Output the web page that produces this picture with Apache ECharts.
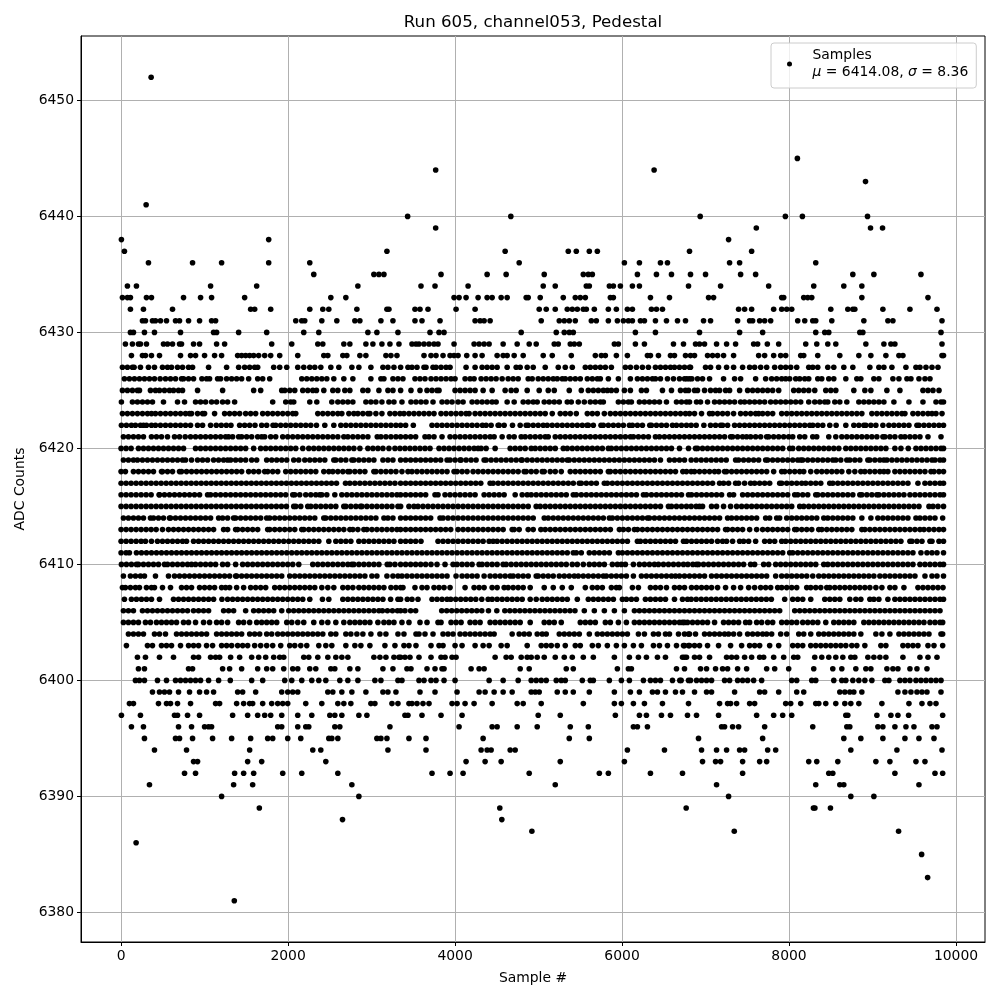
<!DOCTYPE html>
<html><head><meta charset="utf-8"><style>html,body{margin:0;background:#fff}#c{width:1000px;height:1000px}</style>
<script src="https://cdn.jsdelivr.net/npm/echarts@6/dist/echarts.min.js"></script></head><body><div id="c"></div>
<script>
// Sample positions per ADC level (dense rows are approximate).
const s6452=[360];
const s6445=[8100];
const s6444=[3768,6384];
const s6443=[8916];
const s6441=[300];
const s6440=[3432,4668,6936,7956,8160,8940];
const s6439=[3768,7608,8976,9120];
const s6438=[4,1768,7276];
const s6437=[40,3184,4600,5356,5452,5608,5704,6808,7552];
const s6436=[328,856,1204,1768,2260,4768,6028,6208,6460,6544,7288,7408,8320];
const s6435=[2308,3028,3088,3148,3832,4384,4612,5068,5536,5596,5644,6184,6412,6592,6820,7000,7420,7600,8764,9016,9580];
const s6434=[76,184,1072,1624,2836,3592,3760,4156,5056,5200,5572,5608,5848,5896,5980,6124,6208,6796,7180,7756,8296,8656,8872];
const s6433=[16,76,112,304,364,748,952,1084,1480,2512,2692,3988,4048,4132,4276,4384,4444,4552,4624,4852,4876,5020,5296,5440,5500,5560,5860,5896,6340,6568,7036,7096,7912,7936,8176,8224,8272,8872,9664];
const s6432=[112,268,616,1552,1600,1792,2260,2416,2488,2824,3184,3208,3520,3580,3676,4012,4240,5008,5092,5200,5344,5404,5464,5536,5572,5668,5836,5932,6064,6124,6352,6412,6484,7396,7468,7552,7816,7912,7972,8032,8500,8704,8764,8788,9124,9448,9772];
const s6431=[256,292,376,412,472,544,652,700,808,940,1084,1132,2092,2164,2200,2404,2584,2800,2860,3112,3256,3520,3604,3820,4240,4300,4348,4420,5032,5248,5308,5368,5440,5632,5692,5836,5944,6016,6076,6124,6220,6268,6400,6532,6664,6760,6976,7060,7384,7528,7564,7648,7708,7780,8104,8188,8284,8320,8512,8896,9184,9244,9832];
const s6430=[112,148,280,400,712,1108,1144,1408,1744,2188,2368,2956,3064,3316,3700,3808,3868,4792,5212,5308,5368,5416,6160,6400,6928,7408,7684,8320,8428,8476,8848,8884,9820];
const s6429=[52,136,208,232,304,508,556,616,700,724,868,940,1144,1240,1804,2044,2356,2416,2668,2740,2932,3016,3124,3220,3328,3484,3532,3568,3628,3688,3748,3796,3988,4228,4288,4348,4408,4576,4744,4888,4972,5188,5236,5380,5428,5488,5908,5956,6160,6268,6616,6736,6880,6928,6988,7132,7252,7360,7576,7624,7740,7876,8200,8332,8464,8560,8920,9136,9220,9268,9832];
const s6428=[124,256,292,364,460,712,832,892,1000,1120,1204,1396,1444,1492,1540,1588,1648,1720,1792,1900,2116,2428,2476,2656,2704,2860,2932,3172,3232,3304,3628,3712,3772,3856,3940,3988,4036,4140,4240,4324,4504,4576,4624,4708,4816,5056,5164,5392,5680,5752,5800,5932,6064,6304,6340,6436,6580,6628,6760,6820,6868,7024,7084,7144,7216,7336,7636,7708,7816,7900,7960,8140,8176,8344,8608,8836,8980,9160,9316,9364,9832,9850];
const s6427=[16,76,136,156,232,328,400,496,556,604,676,736,808,856,1048,1264,1408,1480,1540,1600,1636,1828,1900,1984,2116,2188,2260,2320,2392,2512,2608,2764,2848,2992,3136,3196,3268,3348,3436,3484,3544,3628,3652,3736,3772,3832,3892,3940,4132,4240,4324,4384,4444,4504,4624,4732,4780,4864,4936,5080,5236,5320,5404,5560,5620,5680,5740,5800,5872,6040,6100,6172,6244,6316,6400,6460,6520,6580,6628,6688,6748,6808,6820,7000,7060,7156,7252,7336,7444,7528,7588,7660,7732,7828,7900,7960,8020,8092,8236,8284,8344,8464,8536,8656,8764,8968,9076,9136,9232,9400,9520,9568,9640,9712,9784];
const s6426=[40,100,160,220,280,340,400,468,532,592,652,724,748,808,868,968,1024,1060,1156,1192,1264,1324,1384,1444,1528,1636,1696,1780,2164,2224,2284,2344,2404,2464,2548,2668,2776,2992,3112,3148,3256,3316,3376,3520,3580,3640,3712,3772,3832,3892,3952,4000,4120,4180,4228,4312,4372,4432,4492,4564,4636,4696,4756,4876,4924,4996,5056,5116,5176,5224,5284,5320,5380,5440,5500,5584,5644,5704,5740,5836,5956,6100,6184,6244,6304,6364,6400,6460,6544,6616,6688,6748,6808,6776,6836,6904,6964,7048,7216,7348,7420,7600,7720,7792,7852,7912,7960,8008,8080,8128,8188,8236,8344,8392,8476,8536,8680,8812,8860,9016,9076,9244,9316,9412,9460,9556,9628,9688];
const s6425=[16,76,136,196,220,352,412,460,520,580,628,688,736,916,1216,1588,1672,1924,1960,2020,2080,2176,2236,2296,2340,2428,2536,2596,2680,2740,2896,2956,3088,3196,3256,3348,3472,3580,3664,3724,3784,3808,4000,4060,4120,4180,4240,4336,4444,4600,4672,4732,4864,5008,5116,5188,5368,5512,5596,5656,5716,5776,5824,5872,5932,6028,6100,6232,6292,6484,6592,6700,6760,6796,6868,6904,6988,7060,7120,7168,7240,7288,7408,7504,7564,7624,7684,7744,7804,7876,8056,8116,8176,8236,8308,8440,8500,8560,8776,8908,8980,9172,9328,9604,9664,9724,9796];
const s6424=[4,136,196,256,316,376,508,676,760,892,952,1012,1084,1144,1216,1276,1360,1816,1972,2032,2068,2260,2344,2524,2596,2656,2716,2776,2932,2992,3052,3124,3208,3268,3364,3472,3532,3592,3652,3736,3844,3904,3964,4036,4096,4204,4264,4324,4384,4444,4492,4624,4708,4816,4876,4936,4984,5068,5128,5188,5248,5344,5392,5476,5548,5620,5680,5740,5776,5956,6016,6076,6112,6208,6268,6328,6388,6448,6532,6652,6712,6772,6808,6892,6940,7024,7108,7168,7228,7288,7348,7420,7468,7528,7588,7648,7708,7780,7840,7900,7960,8020,8080,8140,8236,8308,8368,8428,8464,8548,8608,8692,8836,8896,8956,9016,9076,9136,9256,9436,9604,9760,9820,9850];
const s6423=[16,76,136,196,256,316,364,412,472,532,592,652,712,772,820,844,916,976,1000,1120,1240,1300,1360,1420,1492,1552,1612,1696,1756,1816,1876,1936,1996,2056,2092,2356,2416,2476,2536,2596,2644,2728,2788,2836,2896,2956,2980,3052,3124,3220,3280,3340,3388,3448,3508,3568,3628,3688,3748,3832,3892,3952,4012,4072,4132,4168,4240,4300,4360,4420,4480,4540,4600,4660,4720,4780,4840,4900,4960,5020,5080,5164,5260,5320,5380,5452,5584,5644,5704,5788,5860,5920,5980,6040,6100,6160,6220,6280,6340,6400,6460,6520,6580,6640,6700,6760,6808,6868,6952,7048,7084,7144,7204,7264,7336,7420,7480,7540,7600,7636,7684,7744,7804,7912,7972,8032,8092,8152,8212,8272,8332,8392,8452,8512,8572,8632,8692,8752,8812,8872,8992,9052,9112,9172,9232,9292,9352,9388,9484,9544,9604,9664,9712,9760,9832];
const s6422=[4,64,124,172,232,268,304,364,412,472,532,592,652,712,772,832,916,976,1072,1140,1200,1260,1316,1420,1480,1540,1604,1684,1744,1820,1852,1912,1972,2032,2092,2152,2212,2272,2340,2440,2548,2632,2692,2752,2812,2872,2932,2992,3052,3112,3172,3232,3292,3348,3408,3500,3724,3784,3844,3904,3964,4024,4084,4144,4204,4264,4328,4372,4432,4516,4528,4588,4688,4780,4852,4876,4936,4996,5056,5104,5164,5224,5284,5344,5404,5464,5524,5580,5596,5656,5748,5776,5836,5896,5956,6016,6088,6124,6184,6244,6332,6352,6412,6472,6532,6604,6652,6712,6772,6828,6888,6980,7060,7120,7180,7204,7264,7348,7408,7468,7528,7588,7648,7708,7768,7828,7888,7948,8008,8068,8128,8188,8248,8284,8344,8404,8488,8564,8680,8776,8836,8896,8920,8980,9040,9124,9196,9256,9316,9376,9436,9532,9556,9616,9676,9736,9796,9850];
const s6421=[28,88,148,208,268,364,424,484,556,640,700,768,832,892,952,1012,1072,1132,1192,1252,1288,1336,1408,1444,1504,1564,1636,1684,1720,1792,1852,1936,1996,2056,2116,2176,2236,2296,2356,2416,2476,2536,2596,2668,2716,2776,2836,2896,2956,3068,3112,3172,3232,3292,3348,3408,3468,3528,3640,3688,3748,3844,3940,4000,4060,4120,4180,4240,4300,4360,4420,4468,4564,4648,4708,4792,4840,4900,4960,5020,5080,5116,5200,5260,5320,5380,5440,5500,5560,5620,5680,5740,5800,5860,5920,5980,6040,6100,6136,6196,6256,6316,6400,6448,6508,6568,6628,6688,6748,6808,6868,6928,6988,7048,7108,7168,7228,7300,7324,7384,7444,7492,7540,7600,7660,7732,7756,7816,7876,7936,7996,8044,8128,8188,8284,8332,8476,8560,8632,8692,8752,8812,8872,8932,8992,9052,9124,9148,9208,9268,9340,9388,9448,9508,9568,9664,9820];
const s6420=[0,60,120,208,268,328,388,448,508,568,628,688,748,892,952,1012,1072,1132,1192,1252,1312,1372,1432,1492,1588,1672,1732,1792,1852,1912,1972,2032,2092,2176,2248,2308,2368,2428,2488,2548,2608,2668,2728,2788,2860,2956,3016,3076,3136,3208,3280,3340,3400,3460,3520,3580,3640,3700,3808,3868,3928,3988,4048,4108,4168,4228,4276,4312,4372,4480,4660,4720,4780,4840,4912,4960,5020,5080,5140,5200,5296,5344,5404,5464,5524,5584,5644,5704,5764,5836,5872,5932,5992,6052,6112,6172,6232,6292,6352,6412,6472,6532,6592,6688,6796,6880,6904,6964,7024,7084,7144,7204,7264,7324,7384,7444,7504,7564,7624,7684,7744,7804,7864,7924,8008,8044,8116,8176,8236,8296,8356,8416,8476,8536,8596,8680,8740,8800,8860,8920,8980,9040,9100,9160,9268,9340,9428,9520,9580,9640,9700,9760,9820,9850];
const s6419=[28,88,148,196,256,316,376,436,496,556,616,676,736,772,844,916,976,1036,1108,1168,1228,1276,1312,1372,1432,1492,1564,1624,1744,1804,1864,1924,1984,2068,2128,2200,2260,2320,2380,2440,2548,2572,2632,2692,2764,2788,2848,2908,2968,3028,3136,3196,3256,3348,3408,3468,3528,3588,3648,3708,3768,3828,3904,3940,4000,4060,4072,4132,4192,4252,4348,4372,4432,4492,4552,4612,4672,4732,4792,4804,4864,4924,4984,5044,5104,5164,5224,5284,5344,5368,5428,5488,5548,5608,5668,5728,5788,5848,5908,5968,6028,6088,6148,6208,6268,6328,6388,6460,6568,6628,6688,6748,6828,6888,6948,7008,7068,7128,7188,7248,7360,7396,7456,7516,7576,7636,7720,7744,7804,7864,7924,7984,8044,8104,8140,8164,8224,8284,8344,8404,8464,8524,8560,8620,8692,8728,8788,8848,8944,8968,9028,9088,9136,9172,9232,9292,9352,9412,9472,9532,9592,9652,9712,9748,9808,9850];
const s6418=[0,52,148,208,268,328,388,484,496,556,616,700,724,784,844,904,964,1024,1084,1144,1204,1264,1324,1384,1444,1528,1588,1648,1720,1756,1816,1876,1972,2032,2092,2152,2212,2272,2332,2428,2488,2536,2596,2656,2716,2740,2800,2860,2920,3028,3052,3112,3172,3232,3292,3364,3436,3484,3544,3604,3664,3724,3784,3844,3904,3988,4024,4084,4144,4216,4276,4336,4396,4456,4516,4576,4636,4696,4756,4828,4852,4912,4972,5044,5068,5140,5200,5272,5380,5440,5500,5560,5620,5680,5740,5836,5860,5920,5980,6040,6100,6160,6220,6280,6340,6400,6460,6520,6580,6640,6728,6772,6828,6868,6928,6988,7048,7108,7156,7228,7252,7312,7372,7432,7492,7552,7612,7672,7732,7816,7912,7948,8008,8068,8128,8176,8260,8332,8392,8452,8512,8572,8632,8716,8788,8860,8908,8968,9028,9088,9136,9184,9268,9328,9388,9448,9508,9568,9628,9700,9736,9796,9850];
const s6417=[0,60,120,180,240,300,360,420,480,540,600,660,720,780,840,900,960,1020,1080,1140,1200,1260,1320,1380,1440,1500,1560,1620,1680,1740,1800,1860,1920,1980,2040,2100,2160,2220,2280,2340,2400,2460,2520,2580,2688,2740,2800,2860,2920,2980,3040,3100,3160,3220,3280,3348,3408,3468,3528,3588,3648,3708,3768,3828,3888,3948,4008,4068,4128,4188,4248,4308,4420,4456,4516,4576,4636,4696,4756,4816,4876,4936,4996,5056,5116,5176,5236,5296,5356,5416,5488,5512,5572,5632,5692,5788,5824,5884,5944,6004,6064,6124,6184,6244,6304,6364,6424,6484,6544,6604,6664,6724,6784,6844,6904,6964,7024,7084,7168,7216,7276,7360,7396,7468,7540,7588,7648,7708,7768,7888,7912,7972,8032,8092,8152,8200,8260,8320,8380,8488,8524,8584,8644,8704,8764,8824,8884,8944,9004,9064,9124,9184,9244,9304,9364,9424,9544,9628,9688,9748,9808,9850];
const s6416=[0,60,120,180,240,300,360,456,460,520,580,640,700,760,820,880,940,1036,1072,1132,1192,1252,1312,1372,1432,1492,1552,1612,1672,1732,1792,1852,1912,1972,2056,2080,2140,2212,2272,2332,2380,2404,2464,2560,2644,2704,2764,2824,2884,2944,3004,3064,3124,3184,3244,3304,3348,3408,3468,3528,3588,3648,3760,3796,3880,3940,4000,4060,4120,4180,4240,4348,4408,4468,4528,4588,4720,4804,4864,4912,4972,5032,5092,5152,5212,5272,5332,5416,5452,5512,5572,5632,5692,5752,5812,5872,5932,5992,6052,6112,6172,6256,6292,6352,6412,6472,6532,6592,6652,6712,6796,6832,6892,6952,7012,7072,7132,7192,7288,7336,7444,7504,7564,7624,7684,7744,7804,7864,7924,7984,8068,8104,8164,8224,8320,8344,8404,8464,8524,8584,8644,8704,8764,8848,8872,8932,8992,9052,9076,9136,9196,9256,9316,9376,9448,9508,9568,9628,9688,9748,9808,9850];
const s6415=[0,60,120,180,240,300,360,420,480,540,600,660,720,780,840,900,960,1020,1080,1140,1200,1260,1320,1380,1440,1500,1560,1620,1680,1740,1800,1860,1920,1980,2068,2092,2152,2236,2272,2332,2392,2452,2512,2572,2668,2692,2752,2812,2868,2884,2944,3004,3064,3124,3184,3244,3316,3348,3448,3508,3556,3616,3676,3736,3796,3856,3916,3976,4036,4096,4156,4216,4276,4336,4396,4456,4516,4576,4636,4696,4756,4816,4876,4972,5020,5080,5140,5200,5260,5320,5380,5440,5500,5560,5620,5680,5740,5800,5860,5920,5980,6040,6100,6160,6220,6280,6340,6400,6460,6556,6592,6652,6712,6772,6828,6888,6928,6964,7072,7132,7216,7300,7372,7432,7492,7552,7612,7672,7732,7792,7852,7912,7972,8032,8128,8176,8236,8296,8356,8416,8476,8536,8596,8656,8716,8776,8836,8896,8956,9016,9076,9136,9196,9256,9316,9376,9436,9496,9556,9676,9724,9784,9850];
const s6414=[28,88,148,208,268,352,388,448,508,580,592,652,712,772,832,892,952,1012,1072,1168,1216,1276,1348,1372,1432,1492,1552,1612,1672,1744,1780,1840,1900,1960,2020,2080,2140,2200,2260,2320,2428,2452,2512,2572,2632,2692,2752,2812,2872,2932,2992,3052,3148,3196,3256,3348,3408,3468,3528,3588,3648,3708,3820,3856,3916,3976,4036,4096,4156,4216,4276,4336,4396,4456,4516,4576,4636,4696,4756,4816,4876,4936,5068,5116,5176,5236,5296,5356,5416,5476,5536,5596,5656,5716,5776,5848,5884,5944,6004,6064,6124,6184,6244,6304,6328,6388,6448,6508,6568,6628,6688,6748,6808,6868,6928,6988,7048,7108,7168,7264,7312,7372,7432,7492,7552,7612,7720,7768,7852,7888,7972,8032,8092,8152,8212,8272,8332,8416,8464,8524,8584,8644,8704,8764,8872,8980,9064,9124,9184,9244,9304,9364,9424,9520,9568,9628,9688,9748,9840];
const s6413=[0,60,120,180,240,300,360,420,496,568,628,688,748,808,868,928,988,1048,1108,1228,1276,1372,1396,1456,1516,1576,1636,1756,1780,1840,1900,1960,2020,2080,2164,2188,2248,2308,2368,2428,2488,2548,2608,2668,2740,2776,2836,2908,2944,3004,3064,3124,3184,3244,3304,3348,3408,3468,3528,3588,3648,3708,3768,3828,3888,3948,4036,4096,4156,4216,4276,4336,4396,4456,4516,4576,4684,4708,4768,4876,4936,5028,5080,5140,5200,5260,5320,5380,5440,5500,5560,5620,5680,5740,5800,5860,5968,6016,6076,6148,6184,6244,6304,6364,6424,6484,6544,6604,6664,6724,6784,6844,6904,6964,7024,7084,7144,7240,7264,7324,7384,7444,7528,7612,7684,7744,7804,7864,7924,7984,8068,8092,8152,8212,8272,8356,8392,8452,8512,8572,8632,8692,8752,8872,8908,8968,9028,9088,9148,9208,9268,9328,9388,9448,9508,9568,9616,9676,9736,9796,9850];
const s6412=[0,60,120,180,240,292,364,436,496,556,616,676,736,784,868,928,988,1048,1108,1168,1228,1288,1348,1408,1468,1528,1588,1648,1708,1768,1828,1888,1948,2008,2068,2128,2188,2248,2308,2368,2488,2572,2632,2692,2752,2848,2908,2968,3028,3088,3148,3208,3268,3348,3408,3468,3528,3592,3796,3856,3916,3976,4036,4096,4156,4216,4276,4336,4408,4456,4504,4564,4624,4684,4744,4804,4864,4924,4984,5044,5104,5164,5224,5284,5344,5404,5464,5524,5584,5644,5704,5764,5824,5884,5944,6004,6064,6184,6220,6280,6340,6400,6460,6520,6580,6640,6736,6772,6832,6892,6952,7012,7072,7144,7204,7252,7324,7408,7456,7516,7600,7708,7768,7828,7912,7960,8020,8080,8140,8200,8260,8320,8380,8440,8500,8560,8620,8680,8740,8800,8860,8920,8980,9040,9100,9160,9220,9280,9340,9448,9472,9532,9592,9688,9712,9796,9850];
const s6411=[0,60,100,184,244,304,364,424,484,544,604,664,724,784,844,904,964,1024,1084,1144,1204,1264,1324,1384,1444,1504,1564,1624,1684,1744,1804,1864,1924,1984,2044,2104,2164,2224,2284,2344,2404,2464,2524,2584,2644,2704,2764,2824,2884,2944,3004,3064,3124,3184,3244,3304,3364,3424,3484,3544,3604,3664,3724,3784,3844,3904,3964,4024,4084,4144,4204,4264,4324,4384,4444,4504,4564,4624,4684,4744,4804,4864,4924,4984,5044,5104,5164,5224,5284,5344,5416,5452,5512,5608,5668,5728,5788,5848,5956,6004,6064,6124,6184,6244,6304,6364,6424,6484,6544,6604,6664,6724,6784,6844,6904,6964,7024,7084,7144,7204,7264,7324,7384,7444,7504,7564,7624,7684,7744,7804,7864,7924,8008,8044,8104,8164,8224,8284,8344,8404,8464,8524,8584,8644,8704,8764,8824,8884,8944,9004,9064,9124,9184,9244,9304,9364,9424,9484,9580,9652,9712,9772,9850];
const s6410=[4,64,124,184,208,268,328,388,448,520,556,616,676,736,796,844,892,952,1012,1072,1132,1216,1276,1372,1456,1516,1576,1636,1696,1756,1816,1876,1936,1996,2056,2128,2296,2356,2416,2476,2536,2596,2656,2716,2764,2788,2848,2908,2968,3028,3088,3188,3220,3280,3348,3408,3468,3528,3588,3648,3712,3784,3880,3976,4024,4084,4144,4204,4288,4324,4384,4444,4504,4576,4612,4672,4732,4792,4852,4912,4972,5032,5092,5152,5212,5272,5332,5404,5464,5536,5608,5668,5728,5788,5884,5944,5992,6040,6136,6208,6268,6328,6388,6436,6496,6556,6616,6676,6736,6788,6848,6892,6916,6976,7036,7096,7156,7216,7276,7336,7396,7456,7540,7588,7696,7756,7840,7900,7960,8020,8080,8140,8200,8260,8320,8416,8464,8524,8584,8644,8704,8764,8824,8884,8944,9004,9064,9124,9184,9244,9304,9364,9424,9484,9568,9628,9688,9748,9808,9850];
const s6409=[28,112,172,232,280,412,568,640,700,760,820,880,940,1000,1060,1120,1180,1240,1300,1372,1384,1444,1504,1564,1624,1684,1744,1804,1864,1924,2020,2080,2140,2200,2260,2320,2380,2440,2500,2560,2620,2680,2740,2800,2860,2920,3004,3064,3184,3256,3316,3364,3424,3484,3544,3604,3664,3724,3784,3844,3904,4012,4084,4144,4204,4264,4348,4420,4480,4540,4600,4660,4696,4756,4816,4876,4972,4996,5056,5116,5176,5248,5308,5368,5428,5476,5536,5596,5656,5716,5776,5812,5872,5932,5992,6052,6136,6232,6292,6352,6412,6472,6532,6592,6640,6688,6748,6808,6868,6928,6988,7072,7132,7192,7252,7312,7372,7432,7492,7552,7612,7672,7732,7840,7912,7972,8032,8092,8152,8212,8284,8356,8416,8476,8536,8596,8656,8716,8776,8836,8896,8956,9016,9088,9148,9208,9268,9328,9388,9448,9508,9628,9712,9772,9850];
const s6408=[16,52,112,172,220,304,364,400,496,592,724,784,844,940,1000,1060,1120,1204,1252,1300,1384,1468,1552,1612,1672,1732,1840,1900,1960,2020,2080,2140,2200,2260,2320,2404,2476,2548,2656,2716,2776,2848,2908,2968,3028,3088,3148,3232,3292,3348,3376,3520,3604,3664,3748,3808,3868,3940,4120,4228,4288,4348,4444,4504,4588,4636,4696,4756,4816,4900,5068,5176,5284,5392,5560,5644,5704,5764,5872,5932,5968,6124,6196,6340,6400,6460,6532,6628,6688,6748,6832,6892,6952,7012,7072,7144,7240,7336,7420,7516,7588,7660,7720,7780,7864,7912,7972,8032,8092,8212,8260,8320,8380,8452,8488,8548,8608,8668,8728,8788,8848,8908,8968,9040,9112,9208,9268,9376,9544,9604,9664,9724,9784,9844];
const s6407=[40,124,184,244,304,364,460,628,688,748,808,868,928,988,1048,1108,1208,1276,1336,1396,1456,1516,1576,1636,1696,1756,1816,1876,1936,1996,2056,2116,2176,2260,2412,2488,2656,2716,2776,2836,2896,2956,3016,3076,3136,3228,3316,3348,3428,3484,3556,3724,3784,3844,3904,3948,4008,4068,4128,4188,4248,4320,4396,4444,4504,4564,4624,4684,4744,4804,4900,4972,5044,5104,5164,5224,5284,5344,5464,5596,5656,5716,5776,5836,5896,6004,6052,6112,6172,6280,6340,6400,6460,6520,6628,6724,6784,6828,6888,6948,7008,7068,7128,7188,7248,7308,7368,7428,7488,7548,7608,7668,7728,7788,7948,8044,8104,8164,8260,8428,8488,8548,8608,8728,8800,8860,8968,9016,9076,9184,9268,9328,9388,9448,9508,9568,9628,9688,9748,9808,9850];
const s6406=[28,88,148,256,316,376,436,496,556,616,676,736,796,868,928,988,1048,1228,1288,1348,1492,1588,1648,1708,1768,1828,1924,2008,2068,2128,2188,2248,2308,2368,2428,2488,2548,2608,2668,2728,2788,2848,2908,2968,3028,3088,3130,3190,3250,3310,3348,3400,3468,3528,3840,3900,3960,4020,4080,4140,4200,4260,4320,4400,4500,4596,4656,4716,4776,4836,4896,4956,5016,5076,5136,5196,5256,5316,5376,5436,5548,5668,5788,5908,6028,6148,6208,6268,6328,6388,6448,6508,6568,6628,6688,6748,6808,6868,6928,6988,7048,7108,7168,7228,7288,7348,7408,7468,7528,7588,7648,7708,7768,7828,7888,8068,8128,8188,8248,8308,8368,8428,8488,8548,8608,8668,8728,8788,8848,8908,8968,9028,9088,9148,9208,9268,9328,9388,9448,9508,9568,9628,9688,9748,9808];
const s6405=[28,88,148,208,292,352,424,484,544,604,664,748,808,892,988,1060,1144,1204,1276,1408,1468,1540,1624,1684,1744,1804,1864,1984,2044,2116,2188,2308,2404,2476,2572,2668,2740,2800,2860,2920,2980,3076,3148,3208,3268,3364,3448,3580,3664,3796,3832,3952,4012,4072,4180,4240,4300,4420,4480,4540,4600,4660,4720,4780,4900,5068,5128,5188,5272,5500,5560,5620,5680,5800,5860,5956,6052,6148,6208,6268,6328,6388,6448,6508,6568,6628,6688,6748,6724,6784,6844,6904,6964,7024,7108,7216,7276,7336,7396,7480,7528,7612,7672,7744,7804,7912,7972,8032,8092,8164,8224,8284,8344,8440,8536,8596,8656,8716,8776,8896,8956,9016,9076,9136,9196,9256,9316,9376,9436,9496,9556,9616,9688,9748,9808,9840];
const s6404=[88,148,208,268,400,460,532,664,724,784,844,904,964,1024,1144,1204,1264,1324,1384,1444,1540,1600,1660,1744,1804,1876,1936,1996,2056,2116,2176,2236,2296,2356,2416,2512,2572,2692,2752,2824,2896,2992,3100,3172,3316,3388,3532,3568,3640,3736,3856,3916,3976,4060,4120,4180,4240,4300,4360,4420,4468,4684,4768,4828,4888,4984,5044,5092,5248,5308,5368,5428,5488,5608,5704,5764,5824,5884,5944,6004,6064,6196,6268,6376,6436,6520,6568,6676,6748,6796,6808,6880,6988,7048,7108,7168,7228,7276,7336,7408,7504,7564,7624,7684,7732,7792,7900,7972,8116,8176,8260,8356,8416,8476,8536,8596,8656,8716,8776,8860,9040,9112,9208,9316,9376,9436,9496,9556,9616,9676,9820,9840];
const s6403=[64,316,376,484,544,604,712,808,868,928,1024,1096,1204,1264,1324,1396,1456,1516,1600,1672,1744,1816,1912,2020,2080,2152,2224,2368,2452,2524,2692,2800,2872,2980,3160,3280,3388,3448,3532,3712,3808,3856,4000,4084,4240,4336,4408,4552,4624,4864,5032,5092,5152,5224,5320,5440,5500,5644,5716,5824,5932,6028,6136,6232,6376,6448,6544,6652,6748,6808,6736,6796,6868,6928,7024,7156,7300,7432,7528,7588,7648,7768,7876,8044,8104,8164,8260,8320,8380,8440,8500,8560,8620,8680,8752,8812,8908,9100,9160,9364,9424,9484,9544,9664,9736,9840];
const s6402=[196,292,460,628,868,928,1072,1132,1180,1312,1420,1564,1648,1732,1828,1900,1948,2188,2248,2356,2476,2572,2644,2716,3028,3100,3172,3268,3328,3348,3400,3460,3568,3712,3832,3880,3964,4012,4480,4612,4672,4792,4864,4912,4984,5068,5200,5308,5404,5536,5656,5908,6088,6196,6292,6424,6520,6724,6772,6748,6868,6928,7048,7252,7312,7372,7468,7552,7648,7696,7816,7936,8056,8104,8308,8392,8476,8560,8644,8740,8788,8944,9016,9088,9160,9364,9568,9664,9772];
const s6401=[208,280,808,856,1216,1300,1444,1636,1744,1816,1948,2056,2116,2260,2332,2512,2560,2740,2836,3136,3256,3424,3472,3664,3760,3844,3868,4192,4288,4348,4780,4888,5332,5416,5944,6076,6112,6652,6748,6940,7012,7120,7204,7264,7384,7492,7732,7828,7996,8296,8524,8632,8800,8920,8980,9172,9244,9304,9448,9532,9652];
const s6400=[172,220,280,436,544,652,712,772,832,892,952,1048,1168,1308,1564,1696,1960,2044,2164,2284,2368,2452,2620,2716,2836,3040,3112,3316,3364,3568,3628,3712,3772,3868,4000,4408,4576,4756,4912,4972,5032,5092,5212,5272,5320,5524,5620,5656,5848,5992,6088,6256,6340,6400,6460,6604,6692,6796,6708,6820,6892,6952,7012,7072,7228,7288,7384,7444,7504,7576,7672,8032,8092,8272,8320,8536,8632,8680,8764,8836,8908,8992,9148,9196,9328,9388,9448,9520,9580,9640,9700,9760,9820];
const s6399=[376,460,520,580,688,820,940,1024,1108,1396,1456,1612,1924,1996,2056,2116,2476,2536,2644,2764,2932,3136,3196,3292,3580,3760,4024,4288,4360,4468,4576,4684,4912,4960,5008,5224,5320,5416,5608,5908,6100,6208,6364,6424,6520,6640,6724,6868,7012,7072,7348,7648,7708,7876,8092,8176,8608,8668,8728,8776,8872,9304,9388,9460,9532,9592,9652,9820];
const s6398=[100,148,448,544,592,676,832,1132,1180,1384,1468,1540,1576,1696,1804,1876,1936,1996,2212,2404,2596,2668,2752,2992,3040,3244,3316,3448,3484,3544,3616,3688,3964,4024,4120,4228,4444,4744,4816,5032,5536,5908,5992,6136,6268,6484,6796,7168,7264,7300,7372,7528,7588,7960,8020,8140,8320,8356,8440,8560,8668,8740,8836,9112,9436,9592,9688,9760];
const s6397=[4,232,640,676,796,940,1336,1516,1636,1720,1792,1924,2116,2284,2500,2560,2644,2848,2944,3400,3436,3604,3832,4084,4996,5260,5920,6208,6292,6472,6580,6784,6892,7156,7612,7816,7924,8032,8680,8704,9052,9220,9304,9432,9840];
const s6396=[124,268,688,844,1000,1048,1084,1876,1924,2116,2212,2248,2560,2620,3220,4048,4444,4504,4744,4984,5380,5596,6136,6184,6304,7192,7228,7324,7396,7708,8284,8692,8728,9064,9124,9268,9400,9496,9712,9772];
const s6395=[280,652,700,856,1096,1324,1552,1756,1816,1996,2152,2488,2524,2596,3064,3112,3184,3448,3652,4336,5368,5608,6916,7684,8656,8860,9124,9388,9556,9736];
const s6394=[400,784,1540,2296,2392,3196,3652,4312,4384,4432,4660,4720,6064,6508,6952,7132,7252,7408,7468,7744,7840,8740,9292,9832];
const s6393=[868,916,1516,1684,2452,4132,4360,4552,5260,6028,6964,7120,7180,7444,7648,7732,8236,8332,8584,9040,9208,9520,9628];
const s6392=[760,892,1360,1468,1588,1936,2164,2596,3724,3940,4096,4888,5728,5836,6340,6724,7444,8476,8524,9268,9748,9840];
const s6391=[340,1348,1576,2764,5200,7132,8320,8608,8656,9556];
const s6390=[1204,2848,7276,8740,9016];
const s6389=[1656,4536,6768,8292,8310,8496];
const s6388=[2652,4560];
const s6387=[4920,7344,9312];
const s6386=[180];
const s6385=[9588];
const s6383=[9660];
const s6381=[1356];

const levels=[6452,6445,6444,6443,6441,6440,6439,6438,6437,6436,6435,6434,6433,6432,6431,6430,6429,6428,6427,6426,6425,6424,6423,6422,6421,6420,6419,6418,6417,6416,6415,6414,6413,6412,6411,6410,6409,6408,6407,6406,6405,6404,6403,6402,6401,6400,6399,6398,6397,6396,6395,6394,6393,6392,6391,6390,6389,6388,6387,6386,6385,6383,6381];
const samplesByLevel=[s6452,s6445,s6444,s6443,s6441,s6440,s6439,s6438,s6437,s6436,s6435,s6434,s6433,s6432,s6431,s6430,s6429,s6428,s6427,s6426,s6425,s6424,s6423,s6422,s6421,s6420,s6419,s6418,s6417,s6416,s6415,s6414,s6413,s6412,s6411,s6410,s6409,s6408,s6407,s6406,s6405,s6404,s6403,s6402,s6401,s6400,s6399,s6398,s6397,s6396,s6395,s6394,s6393,s6392,s6391,s6390,s6389,s6388,s6387,s6386,s6385,s6383,s6381];
const xTicks=[0,2000,4000,6000,8000,10000];
const yTicks=[6380,6390,6400,6410,6420,6430,6440,6450];

const points=[];
levels.forEach((v,i)=>samplesByLevel[i].forEach(x=>points.push([x,v])));
const font='"DejaVu Sans"';
const axisCommon={
  axisLine:{onZero:false,lineStyle:{color:'#000',width:1}},
  axisTick:{length:4,lineStyle:{color:'#000',width:1}},
  splitLine:{show:true,lineStyle:{color:'#b0b0b0',width:1}},
  nameTextStyle:{color:'#000',fontFamily:font,fontSize:13.9}
};
const chart=echarts.init(document.getElementById('c'),null,{renderer:'canvas'});
chart.setOption({
  animation:false,
  backgroundColor:'#fff',
  title:{text:'Run 605, channel053, Pedestal',left:528,textAlign:'center',top:9,
    textStyle:{color:'#000',fontFamily:font,fontSize:16.67,fontWeight:'normal'}},
  grid:{show:true,borderColor:'#000',borderWidth:1,left:81,right:15,top:36,bottom:58,containLabel:false},
  xAxis:Object.assign({},axisCommon,{type:'value',min:-480,max:10347,name:'Sample #',nameLocation:'middle',nameGap:29,
    axisTick:Object.assign({},axisCommon.axisTick,{customValues:xTicks}),
    axisLabel:{customValues:xTicks,color:'#000',fontFamily:font,fontSize:13.9,margin:7,formatter:v=>String(v)}}),
  yAxis:Object.assign({},axisCommon,{type:'value',min:6377.45,max:6455.55,name:'ADC Counts',nameLocation:'middle',nameGap:52,
    axisTick:Object.assign({},axisCommon.axisTick,{customValues:yTicks}),
    axisLabel:{customValues:yTicks,color:'#000',fontFamily:font,fontSize:13.9,margin:7,formatter:v=>String(v)}}),
  legend:{left:771,top:43,orient:'vertical',padding:[4,8,7,16],icon:'circle',itemWidth:36,itemHeight:5,itemGap:0,
    backgroundColor:'rgba(255,255,255,0.8)',borderColor:'#cccccc',borderWidth:1,borderRadius:3,
    data:['Samples'],
    formatter:()=>'Samples\n{m|\u03bc} = 6414.08, {m|\u03c3} = 8.36',
    textStyle:{color:'#000',fontFamily:font,fontSize:13.9,lineHeight:17,
      rich:{m:{fontStyle:'italic',fontFamily:font,fontSize:13.9,color:'#000'}}}},
  series:[{name:'Samples',type:'scatter',data:points,symbol:'circle',symbolSize:5.6,
    itemStyle:{color:'#000',opacity:1},silent:true,z:3}]
});
</script></body></html>
